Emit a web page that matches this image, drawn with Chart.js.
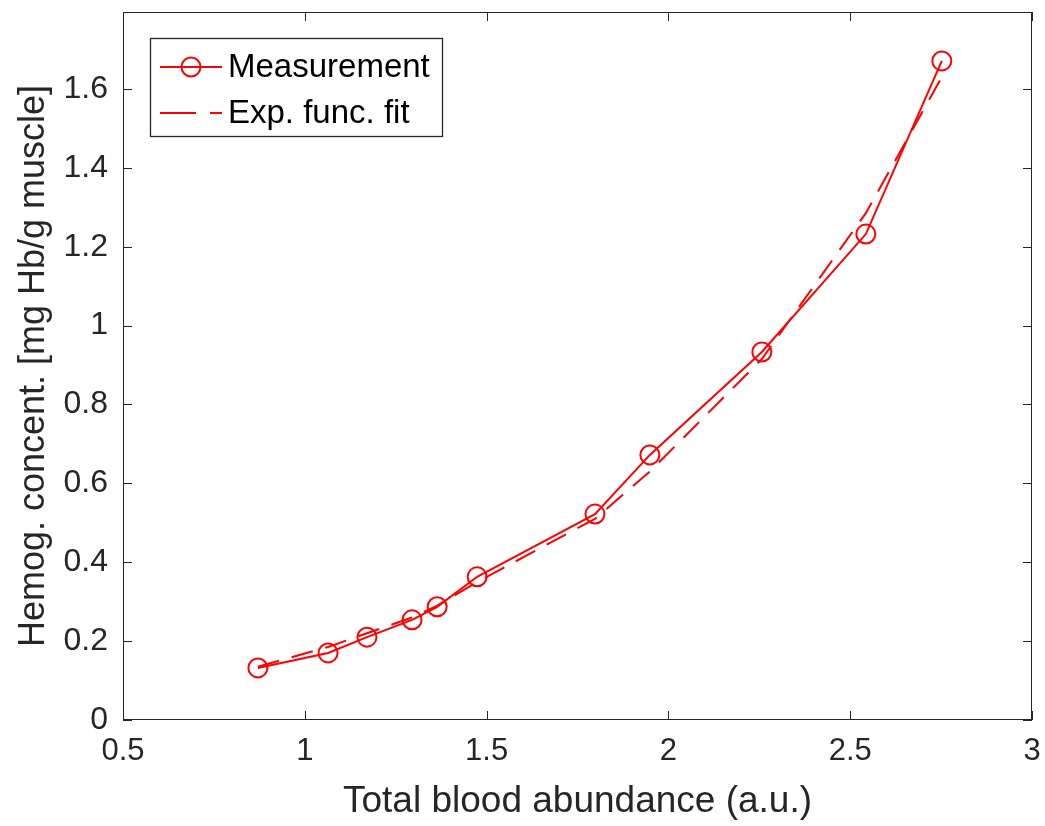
<!DOCTYPE html>
<html lang="en">
<head>
    <meta charset="UTF-8">
    <title>Hemoglobin vs blood abundance</title>
    <script src="https://cdn.jsdelivr.net/npm/chart.js"></script>
    <style>
        body { margin: 0; background: #fff; }
        #chart { display: block; }
    </style>
</head>
<body>
    <canvas id="chart" width="1045" height="826"></canvas>
    <script>
        // values
        const bloodAbundance = [0.871, 1.064, 1.171, 1.295, 1.364, 1.474, 1.798, 1.949, 2.257, 2.543, 2.752];
        const measuredHb     = [0.132, 0.170, 0.210, 0.254, 0.287, 0.363, 0.522, 0.672, 0.933, 1.232, 1.671];
        const fittedHb       = [0.135, 0.185, 0.220, 0.260, 0.290, 0.350, 0.510, 0.630, 0.915, 1.285, 1.630];
        const xTicks = [0.5, 1, 1.5, 2, 2.5, 3];
        const yTicks = [0, 0.2, 0.4, 0.6, 0.8, 1, 1.2, 1.4, 1.6];

        const red = '#ff0000';
        const ink = '#262626';
        const font = "'Liberation Sans', Arial, sans-serif";

        // MATLAB style inward ticks on all four sides
        const boxTicks = {
            id: 'boxTicks',
            afterDraw(chart) {
                const { ctx, chartArea: a, scales } = chart;
                ctx.save();
                ctx.strokeStyle = ink;
                ctx.lineWidth = 1;
                ctx.beginPath();
                xTicks.forEach(v => {
                    const px = Math.round(scales.x.getPixelForValue(v)) + 0.5;
                    ctx.moveTo(px, a.bottom); ctx.lineTo(px, a.bottom - 9);
                    ctx.moveTo(px, a.top); ctx.lineTo(px, a.top + 9);
                });
                yTicks.forEach(v => {
                    const py = Math.round(scales.y.getPixelForValue(v)) + 0.5;
                    ctx.moveTo(a.left, py); ctx.lineTo(a.left + 9, py);
                    ctx.moveTo(a.right, py); ctx.lineTo(a.right - 9, py);
                });
                ctx.stroke();
                ctx.strokeRect(a.left + 0.5, a.top + 0.5, a.right - a.left - 1, a.bottom - a.top - 1);
                ctx.restore();
            }
        };

        // legend box drawn inside the plot, upper left
        const insideLegend = {
            id: 'insideLegend',
            afterDraw(chart) {
                const { ctx, chartArea: a } = chart;
                const bx = a.left + 27, by = a.top + 26, bw = 292, bh = 98;
                ctx.save();
                ctx.fillStyle = '#fff';
                ctx.fillRect(bx, by, bw, bh);
                ctx.strokeStyle = ink;
                ctx.lineWidth = 1.3;
                ctx.strokeRect(bx + 0.5, by + 0.5, bw, bh);

                const y1 = by + 29, y2 = by + 75;
                ctx.strokeStyle = red;
                ctx.lineWidth = 2;
                ctx.beginPath();
                ctx.moveTo(bx + 10, y1); ctx.lineTo(bx + 72, y1);
                ctx.stroke();
                ctx.beginPath();
                ctx.arc(bx + 41, y1, 9.5, 0, Math.PI * 2);
                ctx.stroke();
                ctx.setLineDash([36, 14]);
                ctx.beginPath();
                ctx.moveTo(bx + 10, y2); ctx.lineTo(bx + 72, y2);
                ctx.stroke();
                ctx.setLineDash([]);

                ctx.fillStyle = '#000';
                ctx.font = '33px ' + font;
                ctx.textBaseline = 'middle';
                ctx.fillText(chart.data.datasets[0].label, bx + 78, y1 + 1);
                ctx.fillText(chart.data.datasets[1].label, bx + 78, y2 + 1);
                ctx.restore();
            }
        };

        new Chart(document.getElementById('chart'), {
            type: 'scatter',
            data: {
                datasets: [{
                    label: 'Measurement',
                    data: bloodAbundance.map((x, i) => ({ x, y: measuredHb[i] })),
                    showLine: true,
                    borderColor: red,
                    borderWidth: 2,
                    backgroundColor: 'rgba(0,0,0,0)',
                    pointRadius: 9.5,
                    pointBorderWidth: 2,
                    pointBorderColor: red,
                    pointBackgroundColor: 'rgba(0,0,0,0)'
                }, {
                    label: 'Exp. func. fit',
                    data: bloodAbundance.map((x, i) => ({ x, y: fittedHb[i] })),
                    showLine: true,
                    borderColor: red,
                    borderWidth: 2,
                    borderDash: [22, 13],
                    pointRadius: 0
                }]
            },
            options: {
                responsive: false,
                animation: false,
                layout: { padding: { left: 0, right: 13, top: 12, bottom: 0 } },
                plugins: { legend: { display: false }, tooltip: { enabled: false } },
                scales: {
                    x: {
                        type: 'linear',
                        min: 0.5,
                        max: 3,
                        afterBuildTicks: s => { s.ticks = xTicks.map(v => ({ value: v })); },
                        afterFit: s => { s.height = 106; s.paddingLeft = 0; s.paddingRight = 0; },
                        grid: { display: false, drawTicks: false },
                        border: { display: false },
                        ticks: {
                            color: ink,
                            padding: 13,
                            maxRotation: 0,
                            font: { family: font, size: 31 },
                            callback: v => String(v)
                        },
                        title: {
                            display: true,
                            text: 'Total blood abundance (a.u.)',
                            color: ink,
                            padding: { top: 0, bottom: 2 },
                            font: { family: font, size: 37 }
                        }
                    },
                    y: {
                        min: 0,
                        max: 1.795,
                        afterBuildTicks: s => { s.ticks = yTicks.map(v => ({ value: v })); },
                        afterFit: s => { s.width = 123; s.paddingTop = 0; s.paddingBottom = 0; },
                        grid: { display: false, drawTicks: false },
                        border: { display: false },
                        ticks: {
                            color: ink,
                            padding: 15,
                            font: { family: font, size: 32 },
                            callback: v => String(Math.round(v * 10) / 10)
                        },
                        title: {
                            display: true,
                            text: 'Hemog. concent. [mg Hb/g muscle]',
                            color: ink,
                            padding: { top: 12, bottom: 0 },
                            font: { family: font, size: 36 }
                        }
                    }
                }
            },
            plugins: [boxTicks, insideLegend]
        });
    </script>
</body>
</html>
